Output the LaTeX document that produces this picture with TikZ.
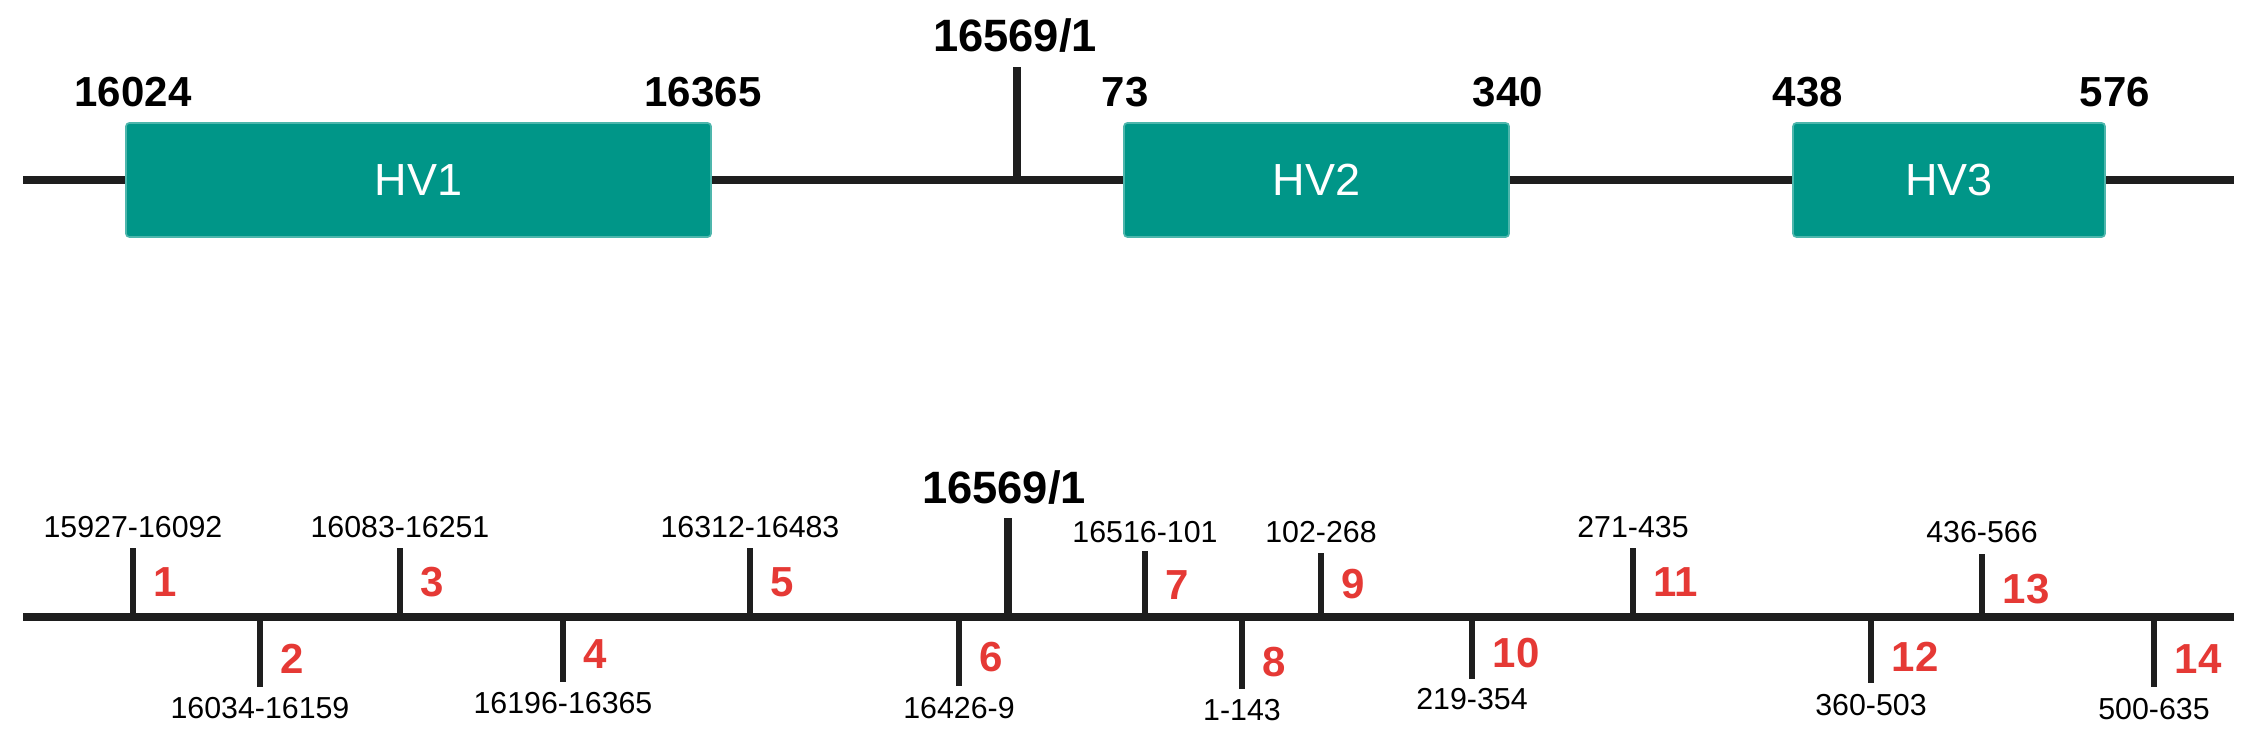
\documentclass[tikz,border=0pt]{standalone}
\usepackage{fontspec}
\setmainfont{Liberation Sans}
\definecolor{tealfill}{HTML}{009688}
\definecolor{tealedge}{HTML}{4DB6AC}
\definecolor{redn}{HTML}{E53935}
\definecolor{ink}{HTML}{1E1E1E}
\begin{document}
\begin{tikzpicture}[x=0.3pt,y=-0.3pt,
 axis/.style={draw=ink,line width=2.4pt},
 tickline/.style={draw=ink,line width=1.8pt},
 bigtick/.style={draw=ink,line width=2.3pt},
 hvbox/.style={fill=tealfill,draw=tealedge,line width=0.5pt,rounded corners=1pt,text=white,font=\fontsize{13.5}{16}\selectfont,inner sep=0pt},
 poslab/.style={font=\bfseries\fontsize{12.6}{15}\selectfont,inner sep=0pt},
 zerolab/.style={font=\bfseries\fontsize{13.6}{16}\selectfont,inner sep=0pt},
 rng/.style={font=\fontsize{9.1}{11}\selectfont,inner sep=0pt},
 num/.style={font=\bfseries\fontsize{12.6}{15}\selectfont,text=redn,inner sep=0pt,anchor=west}]
\useasboundingbox (0,0) rectangle (2254,756);
% ---------- top track ----------
\coordinate (tl) at (23,180);
\coordinate (tr) at (2234,180);
\draw[axis] (tl) -- (tr);
\coordinate (tz) at (1017,180);
\coordinate (tzt) at (1017,67);
\draw[bigtick] (tz) -- (tzt);
\node[zerolab] (tzl) at (1015,36) {16569/1};
\node[hvbox,minimum width=175.5pt,minimum height=34.2pt] (hv1) at (418.5,180) {HV1};
\node[hvbox,minimum width=115.5pt,minimum height=34.2pt] (hv2) at (1316.5,180) {HV2};
\node[hvbox,minimum width=93.6pt,minimum height=34.2pt] (hv3) at (1949,180) {HV3};
\node[poslab] (p1) at (133,92) {16024};
\node[poslab] (p2) at (703,92) {16365};
\node[poslab] (p3) at (1125,92) {73};
\node[poslab] (p4) at (1508,92) {340};
\node[poslab] (p5) at (1808,92) {438};
\node[poslab] (p6) at (2115,92) {576};
% ---------- bottom track ----------
\coordinate (bl) at (23,617);
\coordinate (br) at (2234,617);
\draw[axis] (bl) -- (br);
\coordinate (bz) at (1008,617);
\coordinate (bzt) at (1008,518);
\draw[bigtick] (bz) -- (bzt);
\node[zerolab] (bzl) at (1004,488) {16569/1};
\foreach \n/\x/\e/\b/\ny/\lab in {
 1/133/548/538/582/15927-16092,
 3/400/548/538/582/16083-16251,
 5/750/548/538/582/16312-16483,
 7/1145/551/543/585/16516-101,
 9/1321/553/543/584/102-268,
 11/1633/548/538/582/271-435,
 13/1982/554/543/589/436-566}{
  \coordinate (t\n) at (\x,617);
  \coordinate (e\n) at (\x,\e);
  \draw[tickline] (t\n) -- (e\n);
  \node[rng,anchor=base] (r\n) at (\x,\b) {\lab};
  \node[num] (n\n) at (\x+20,\ny) {\n};
}
\foreach \n/\x/\e/\b/\ny/\lab in {
 2/260/687/697/659/16034-16159,
 4/563/682/692/654/16196-16365,
 6/959/686/697/657/16426-9,
 8/1242/689/699/662/1-143,
 10/1472/679/688/653/219-354,
 12/1871/683/694/657/360-503,
 14/2154/687/698/659/500-635}{
  \coordinate (t\n) at (\x,617);
  \coordinate (e\n) at (\x,\e);
  \draw[tickline] (t\n) -- (e\n);
  \node[rng,anchor=north] (r\n) at (\x,\b) {\lab};
  \node[num] (n\n) at (\x+20,\ny) {\n};
}
\end{tikzpicture}
\end{document}
